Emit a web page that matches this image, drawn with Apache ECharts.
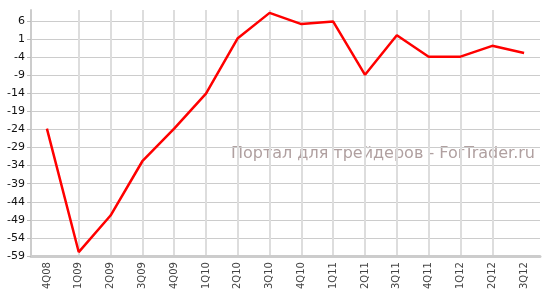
<!DOCTYPE html>
<html><head><meta charset="utf-8">
<script src="https://cdn.jsdelivr.net/npm/echarts@6/dist/echarts.min.js"></script>
<style>html,body{margin:0;padding:0;background:#fff}#c{width:543px;height:292px}</style>
</head><body><div id="c"></div>
<script>
const categories = ['4Q08','1Q09','2Q09','3Q09','4Q09','1Q10','2Q10','3Q10','4Q10','1Q11','2Q11','3Q11','4Q11','1Q12','2Q12','3Q12'];
const values = [-23.8, -57.9, -47.8, -32.8, -23.8, -14.1, 1.2, 8.2, 5.1, 5.8, -8.9, 2.0, -3.9, -3.9, -0.9, -2.9];
const yMin = -59, yMax = 9, yStep = 5;
const watermark = 'Портал для трейдеров - ForTrader.ru';

const chart = echarts.init(document.getElementById('c'), null, {renderer:'canvas'});
chart.setOption({
  animation: false,
  grid: {left: 31, right: 3, top: 10, bottom: 35},
  xAxis: {
    type: 'category', data: categories, boundaryGap: true,
    axisLine: {onZero: false, lineStyle: {color: '#cccccc', width: 3}},
    axisTick: {alignWithLabel: true, length: 4, lineStyle: {color: '#bbbbbb'}},
    axisLabel: {rotate: 90, fontFamily: 'DejaVu Sans', fontSize: 10, color: '#444', margin: 6},
    splitLine: {show: true, alignWithLabel: true, showMinLine: false, showMaxLine: false, lineStyle: {color: '#dddddd', width: 2}}
  },
  yAxis: {
    type: 'value', min: yMin, max: yMax, interval: yStep,
    axisLine: {show: true, onZero: false, lineStyle: {color: '#cccccc', width: 2}},
    axisTick: {show: true, length: 4, lineStyle: {color: '#bbbbbb'}},
    axisLabel: {fontFamily: 'DejaVu Sans', fontSize: 11, color: '#111', margin: 6, showMaxLabel: false},
    splitLine: {showMaxLine: false, lineStyle: {color: '#cccccc', width: 1}}
  },
  graphic: [{
    type: 'text', right: 8, top: 146,
    style: {text: watermark, font: '16px "DejaVu Sans"', fill: '#b0a0a0'}
  }],
  series: [{
    type: 'line', data: values, symbol: 'none',
    lineStyle: {color: '#ff0000', width: 2.5}
  }]
});
</script></body></html>
